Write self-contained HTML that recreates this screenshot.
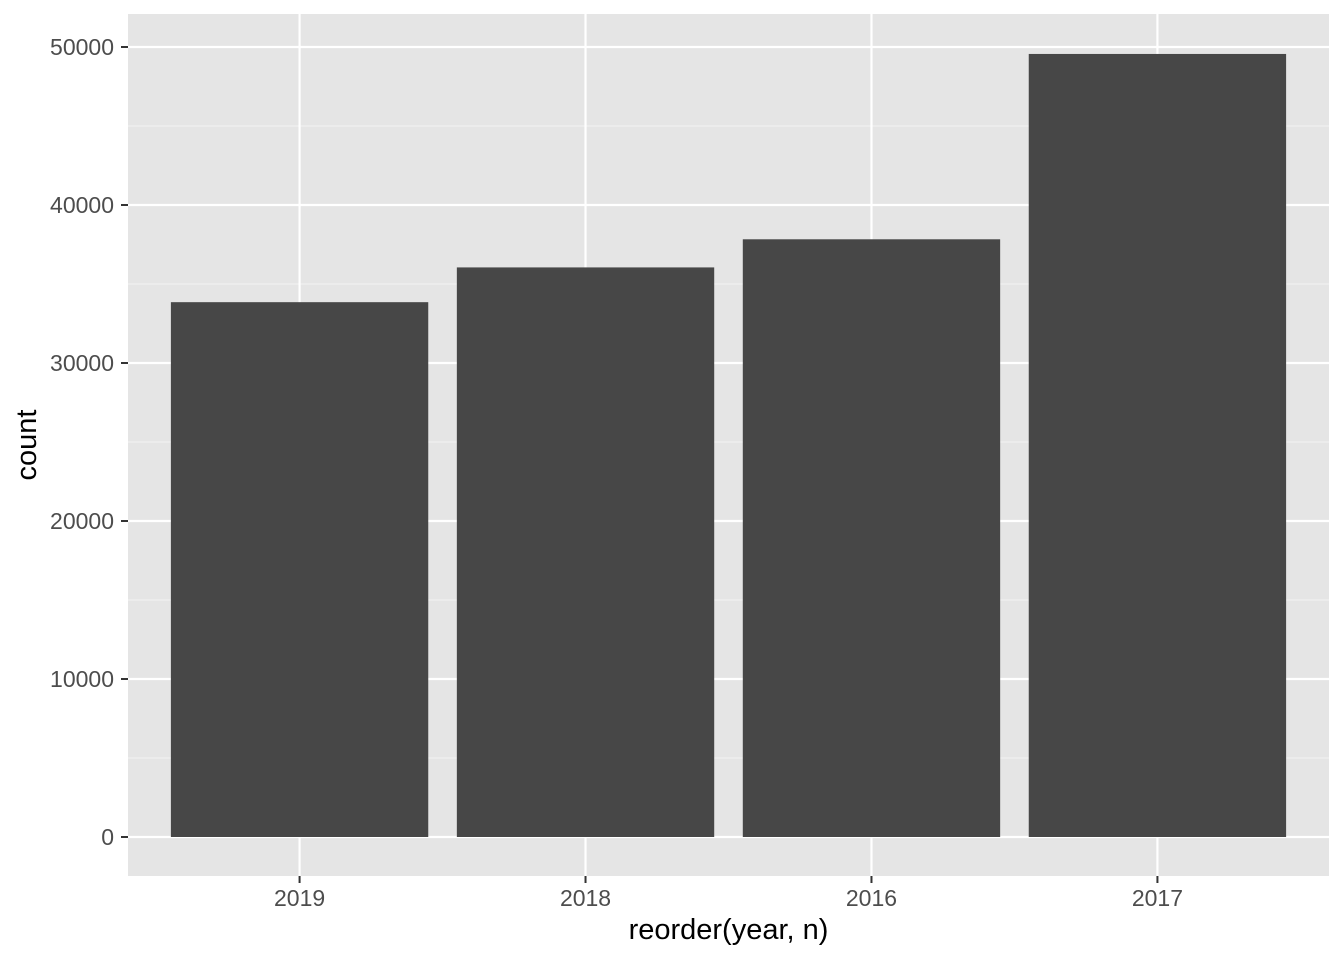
<!DOCTYPE html>
<html><head><meta charset="utf-8"><style>
html,body{margin:0;padding:0;background:#fff;}
svg{display:block;font-family:"Liberation Sans",Arial,sans-serif;}
</style></head><body>
<svg id="chart" width="1344" height="960"></svg>
<script>
const categories = ["2019","2018","2016","2017"];
const counts = [33850, 36050, 37830, 49560];
const yTicks = [0,10000,20000,30000,40000,50000];

const NS="http://www.w3.org/2000/svg";
const svg=document.getElementById('chart');
const L=128,R=1329,T=14,B=876;
const y0=837,y50=47;
const yScale=v=>y0-(v/50000)*(y0-y50);
const step=(R-L)/(categories.length+0.2);
const xScale=i=>L+step*(0.6+i);
function mk(tag,attrs,parent){const e=document.createElementNS(NS,tag);for(const k in attrs)e.setAttribute(k,attrs[k]);(parent||svg).appendChild(e);return e;}

const panel=mk('rect',{x:L,y:T,width:R-L,height:B-T,fill:'#e5e5e5'});



for(let i=0;i<yTicks.length-1;i++){
  const v=(yTicks[i]+yTicks[i+1])/2;
  const g=mk('line',{x1:L,x2:R,y1:yScale(v),y2:yScale(v),stroke:'#f2f2f2','stroke-width':1.1});
  
  
}
yTicks.forEach(v=>{
  const g=mk('line',{x1:L,x2:R,y1:yScale(v),y2:yScale(v),stroke:'#fff','stroke-width':2.2});
  
  
  const t=mk('line',{x1:L-7,x2:L,y1:yScale(v),y2:yScale(v),stroke:'#333','stroke-width':2});
  
  
  const lb=mk('text',{x:L-14,y:yScale(v)+8,'text-anchor':'end','font-size':23,fill:'#4d4d4d'});
  lb.textContent=v;
  
  
});
categories.forEach((c,i)=>{
  const x=xScale(i);
  const g=mk('line',{x1:x,x2:x,y1:T,y2:B,stroke:'#fff','stroke-width':2.2});
  
  
});
categories.forEach((c,i)=>{
  const x=xScale(i),w=step*0.9;
  const b=mk('rect',{x:x-w/2,y:yScale(counts[i]),width:w,height:yScale(0)-yScale(counts[i]),fill:'#474747'});
  
  
  const t=mk('line',{x1:x,x2:x,y1:B,y2:B+7,stroke:'#333','stroke-width':2});
  
  
  const lb=mk('text',{x:x,y:906,'text-anchor':'middle','font-size':23,fill:'#4d4d4d'});
  lb.textContent=c;
  
  
});
const xt=mk('text',{x:(L+R)/2,y:939,'text-anchor':'middle','font-size':29,fill:'#000'});
xt.textContent='reorder(year, n)';


const yt=mk('text',{x:0,y:0,'text-anchor':'middle','font-size':29,fill:'#000',transform:`translate(36,${(T+B)/2}) rotate(-90)`});
yt.textContent='count';


</script>
</body></html>
